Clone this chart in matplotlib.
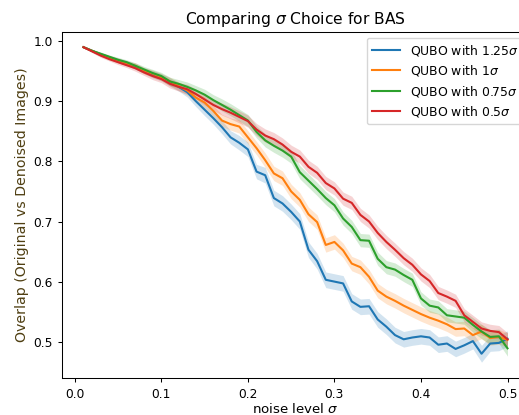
import numpy as np
import matplotlib
matplotlib.use("Agg")
import matplotlib.pyplot as plt

sigma = [round(0.01 * k, 2) for k in range(1, 51)]

qubo_125 = [0.990, 0.984, 0.978, 0.973, 0.968, 0.964, 0.958, 0.951, 0.945, 0.940,
            0.932, 0.924, 0.915, 0.900, 0.886, 0.872, 0.857, 0.840, 0.831, 0.820,
            0.783, 0.777, 0.739, 0.730, 0.716, 0.700, 0.653, 0.634, 0.603, 0.600,
            0.597, 0.567, 0.558, 0.559, 0.537, 0.525, 0.511, 0.504, 0.507, 0.509,
            0.507, 0.495, 0.497, 0.488, 0.494, 0.501, 0.480, 0.497, 0.498, 0.505]
qubo_1 = [0.990, 0.984, 0.978, 0.973, 0.968, 0.963, 0.959, 0.951, 0.946, 0.940,
          0.933, 0.925, 0.918, 0.906, 0.898, 0.884, 0.868, 0.862, 0.858, 0.840,
          0.822, 0.802, 0.780, 0.772, 0.750, 0.736, 0.712, 0.699, 0.661, 0.666,
          0.652, 0.630, 0.624, 0.608, 0.585, 0.575, 0.568, 0.560, 0.553, 0.546,
          0.540, 0.535, 0.529, 0.521, 0.522, 0.511, 0.517, 0.506, 0.508, 0.503]
qubo_075 = [0.990, 0.984, 0.979, 0.974, 0.969, 0.965, 0.959, 0.953, 0.947, 0.942,
            0.933, 0.929, 0.924, 0.918, 0.911, 0.902, 0.894, 0.886, 0.877, 0.868,
            0.849, 0.835, 0.826, 0.818, 0.808, 0.782, 0.768, 0.754, 0.739, 0.727,
            0.705, 0.691, 0.669, 0.668, 0.638, 0.624, 0.620, 0.611, 0.603, 0.572,
            0.560, 0.557, 0.544, 0.542, 0.540, 0.528, 0.517, 0.508, 0.509, 0.489]
qubo_05 = [0.990, 0.983, 0.976, 0.970, 0.965, 0.960, 0.955, 0.948, 0.942, 0.937,
           0.929, 0.924, 0.920, 0.912, 0.903, 0.894, 0.887, 0.881, 0.874, 0.867,
           0.853, 0.843, 0.837, 0.828, 0.816, 0.808, 0.791, 0.781, 0.764, 0.755,
           0.738, 0.731, 0.711, 0.700, 0.681, 0.666, 0.653, 0.639, 0.628, 0.612,
           0.601, 0.581, 0.575, 0.568, 0.544, 0.533, 0.522, 0.518, 0.516, 0.504]

# half-width of shaded bands
err_125 = [0.001, 0.002, 0.003, 0.003, 0.004, 0.004, 0.005, 0.005, 0.006, 0.006,
           0.007, 0.007, 0.008, 0.009, 0.010, 0.010, 0.011, 0.011, 0.012, 0.012,
           0.012, 0.013, 0.013, 0.013, 0.013, 0.013, 0.013, 0.013, 0.013, 0.013,
           0.013, 0.013, 0.013, 0.013, 0.013, 0.013, 0.013, 0.013, 0.013, 0.013,
           0.013, 0.013, 0.013, 0.013, 0.013, 0.013, 0.014, 0.013, 0.013, 0.013]
err_1 = [0.001, 0.002, 0.003, 0.003, 0.004, 0.004, 0.005, 0.005, 0.006, 0.006,
         0.007, 0.007, 0.008, 0.008, 0.009, 0.009, 0.010, 0.010, 0.011, 0.011,
         0.011, 0.012, 0.012, 0.012, 0.012, 0.012, 0.012, 0.012, 0.012, 0.012,
         0.012, 0.012, 0.012, 0.012, 0.012, 0.012, 0.012, 0.012, 0.012, 0.012,
         0.012, 0.012, 0.012, 0.012, 0.012, 0.012, 0.012, 0.012, 0.012, 0.012]
err_075 = [0.001, 0.002, 0.003, 0.003, 0.004, 0.004, 0.005, 0.005, 0.006, 0.006,
           0.007, 0.007, 0.008, 0.008, 0.009, 0.009, 0.010, 0.010, 0.010, 0.010,
           0.010, 0.011, 0.011, 0.011, 0.011, 0.011, 0.011, 0.011, 0.011, 0.011,
           0.011, 0.011, 0.011, 0.011, 0.011, 0.011, 0.011, 0.011, 0.011, 0.011,
           0.011, 0.011, 0.011, 0.011, 0.011, 0.012, 0.012, 0.012, 0.012, 0.013]
err_05 = [0.001, 0.002, 0.003, 0.003, 0.004, 0.004, 0.005, 0.005, 0.006, 0.006,
          0.007, 0.007, 0.008, 0.008, 0.009, 0.009, 0.010, 0.010, 0.010, 0.010,
          0.010, 0.011, 0.011, 0.011, 0.011, 0.011, 0.011, 0.011, 0.011, 0.011,
          0.011, 0.011, 0.011, 0.011, 0.011, 0.011, 0.011, 0.011, 0.011, 0.011,
          0.011, 0.011, 0.011, 0.011, 0.011, 0.011, 0.011, 0.011, 0.011, 0.011]

labels = [r"QUBO with 1.25$\sigma$", r"QUBO with 1$\sigma$",
          r"QUBO with 0.75$\sigma$", r"QUBO with 0.5$\sigma$"]
colors = ["#1f77b4", "#ff7f0e", "#2ca02c", "#d62728"]
series = [qubo_125, qubo_1, qubo_075, qubo_05]
errors = [err_125, err_1, err_075, err_05]

plt.rcParams["font.family"] = ["DejaVu Sans"]
plt.rcParams["font.size"] = 9

fig = plt.figure(figsize=(5.19, 4.15), dpi=100)
ax = fig.add_axes([0.120, 0.0884, 0.8987, 0.8345])

x = np.array(sigma)
for vals, err, lab, col in zip(series, errors, labels, colors):
    v = np.array(vals)
    e = np.array(err)
    ax.plot(x, v, color=col, lw=1.5, label=lab)
    ax.fill_between(x, v - e, v + e, color=col, alpha=0.2, lw=0)

ax.set_xlim(-0.0145, 0.5245)
ax.set_ylim(0.4391, 1.0153)
ax.set_xticks([0.0, 0.1, 0.2, 0.3, 0.4, 0.5])
ax.set_yticks([0.5, 0.6, 0.7, 0.8, 0.9, 1.0])
ax.tick_params(labelsize=8.8, length=3.2, width=0.75)
for s in ax.spines.values():
    s.set_linewidth(0.75)

ax.set_title(r"Comparing $\sigma$ Choice for BAS", fontsize=11.2, pad=5.5)
ax.set_xlabel(r"noise level $\sigma$", fontsize=9.6, labelpad=0.8)
ax.set_ylabel("Overlap (Original vs Denoised Images)", fontsize=10.2,
              color="#4f3f12", labelpad=3.4)
ax.legend(loc="upper right", fontsize=8.9, framealpha=0.8, labelspacing=0.45,
          borderaxespad=0.45, handlelength=2.3)

fig.savefig("out.png", dpi=100)
